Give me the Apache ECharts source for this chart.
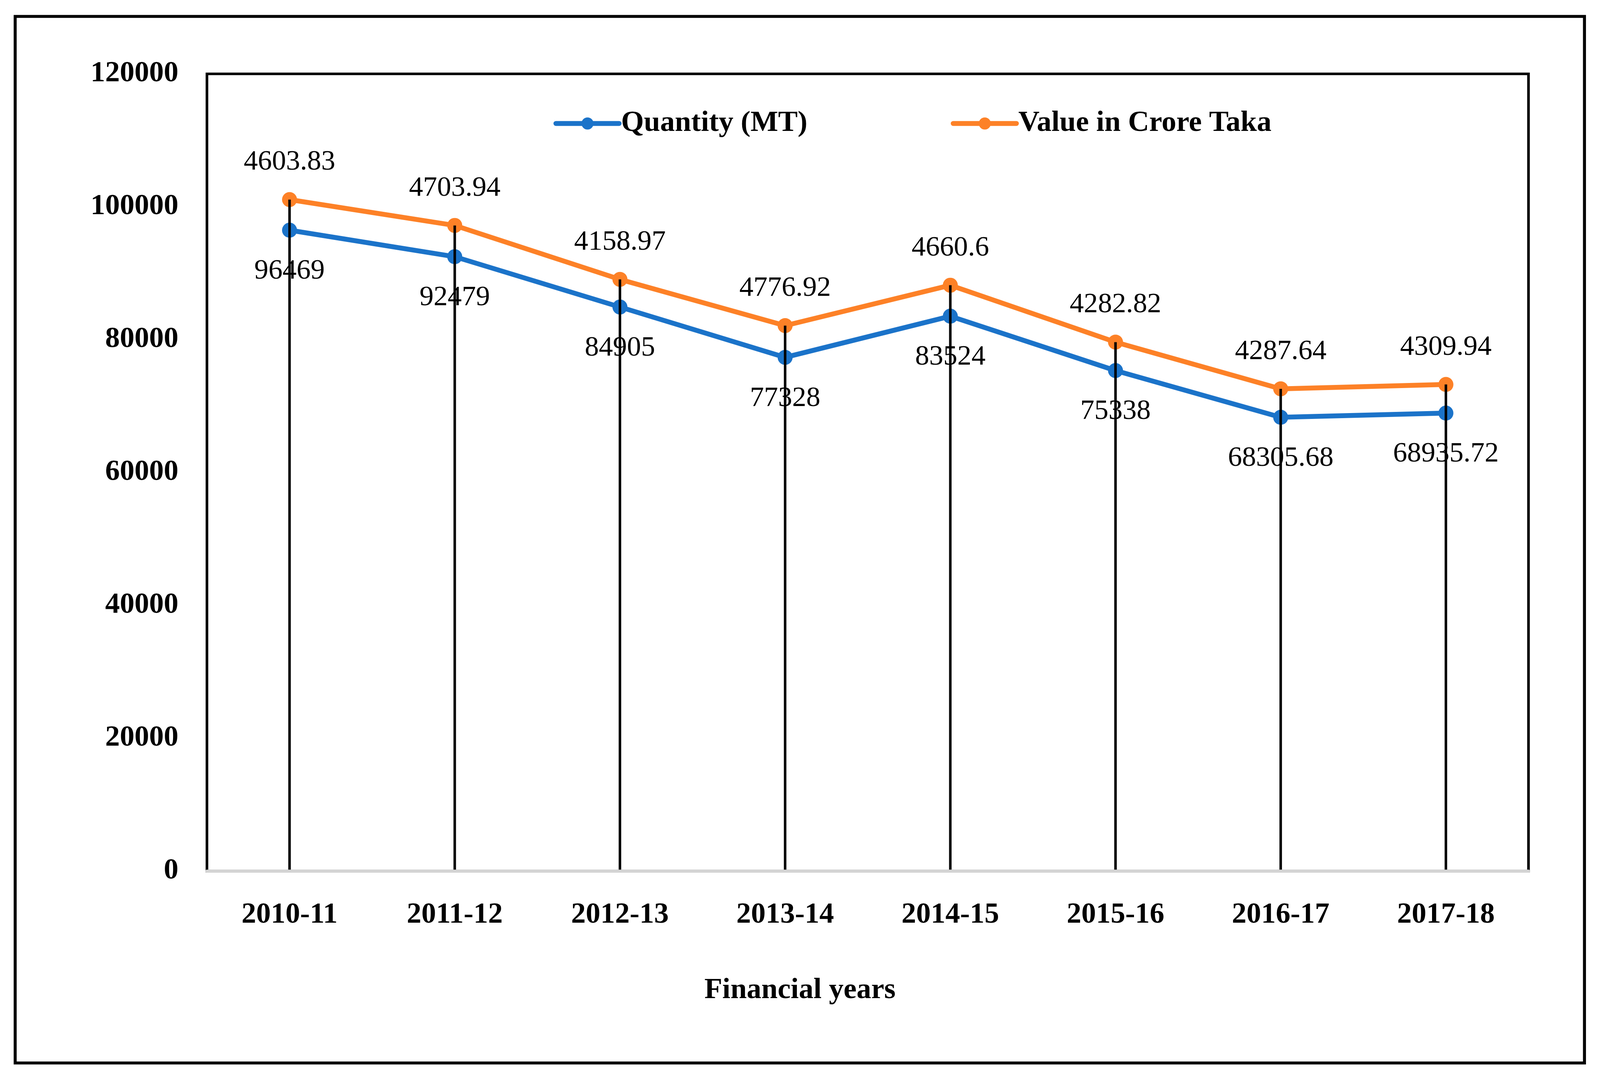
<!DOCTYPE html>
<html>
<head>
<meta charset="utf-8">
<script src="https://cdn.jsdelivr.net/npm/echarts@6/dist/echarts.min.js"></script>
<style>
html,body{margin:0;padding:0;background:#fff;overflow:hidden;}
#chart{width:100vw;height:100vh;}
</style>
</head>
<body>
<div id="chart"></div>
<script>
const categories = ['2010-11','2011-12','2012-13','2013-14','2014-15','2015-16','2016-17','2017-18'];
const quantity = [96469, 92479, 84905, 77328, 83524, 75338, 68305.68, 68935.72];
const valueCrore = [4603.83, 4703.94, 4158.97, 4776.92, 4660.6, 4282.82, 4287.64, 4309.94];
const yTicks = {min: 0, max: 120000, interval: 20000};

const stackedTop = quantity.map((q, i) => q + valueCrore[i]);
const FONT = '"Liberation Serif", "DejaVu Serif", serif';
const BLUE = '#1B73C9';
const ORANGE = '#FD8127';

const W = window.innerWidth, H = window.innerHeight;
const sx = W / 4430, sy = H / 2761, fs = Math.sqrt(sx * sy);
const X = v => v * sx, Y = v => v * sy;

const legendText = {fontFamily: FONT, fontSize: 78 * fs, fontWeight: 'bold', color: '#000', lineHeight: 80 * fs};

const chart = echarts.init(document.getElementById('chart'));
chart.setOption({
  backgroundColor: '#fff',
  animation: false,
  textStyle: {fontFamily: FONT},
  title: {
    text: 'Financial years',
    left: 'center',
    top: Y(2492),
    textStyle: {fontFamily: FONT, fontSize: 78 * fs, fontWeight: 'bold', color: '#000'}
  },
  graphic: [{
    type: 'rect',
    shape: {x: X(42), y: Y(42), width: X(4387) - X(42), height: Y(2720) - Y(42)},
    style: {fill: 'none', stroke: '#000', lineWidth: 8 * fs},
    silent: true
  }],
  legend: [{
    data: ['Quantity (MT)'],
    left: X(1527), top: Y(311) - 40 * fs,
    itemWidth: 175 * sx, itemHeight: 40 * fs, itemGap: 0,
    lineStyle: {width: 13 * fs, cap: 'round'},
    textStyle: legendText
  }, {
    data: ['Value in Crore Taka'],
    left: X(2627), top: Y(311) - 40 * fs,
    itemWidth: 175 * sx, itemHeight: 40 * fs, itemGap: 0,
    lineStyle: {width: 13 * fs, cap: 'round'},
    textStyle: legendText
  }],
  grid: {
    left: X(573), top: Y(189), right: W - X(4232), bottom: H - Y(2229),
    containLabel: false,
    show: true, borderColor: '#000', borderWidth: 7 * fs, backgroundColor: 'transparent'
  },
  xAxis: {
    type: 'category',
    data: categories,
    boundaryGap: true,
    axisLine: {show: true, lineStyle: {color: '#d4d4d4', width: 8 * fs}},
    axisTick: {show: false},
    axisLabel: {margin: 75 * sy, fontFamily: FONT, fontSize: 78 * fs, fontWeight: 'bold', color: '#000'},
    splitLine: {show: false},
    z: 5
  },
  yAxis: {
    type: 'value',
    min: yTicks.min, max: yTicks.max, interval: yTicks.interval,
    axisLine: {show: false},
    axisTick: {show: false},
    splitLine: {show: false},
    axisLabel: {margin: X(79), fontFamily: FONT, fontSize: 78 * fs, fontWeight: 'bold', color: '#000', formatter: v => String(v)}
  },
  series: [
    {
      name: 'Quantity (MT)',
      type: 'line',
      stack: 'total',
      data: quantity,
      symbol: 'circle',
      symbolSize: 40 * fs,
      lineStyle: {color: BLUE, width: 13 * fs},
      itemStyle: {color: BLUE},
      label: {show: true, position: 'bottom', distance: 50 * sy, fontFamily: FONT, fontSize: 75 * fs, color: '#000', formatter: p => String(p.value)},
      z: 2
    },
    {
      name: 'Value in Crore Taka',
      type: 'line',
      stack: 'total',
      data: valueCrore,
      symbol: 'circle',
      symbolSize: 40 * fs,
      lineStyle: {color: ORANGE, width: 13 * fs},
      itemStyle: {color: ORANGE},
      label: {show: true, position: 'top', distance: 40 * sy, fontFamily: FONT, fontSize: 75 * fs, color: '#000', formatter: p => String(p.value)},
      z: 2
    },
    {
      name: 'drop',
      type: 'bar',
      data: stackedTop,
      barWidth: 7 * sx,
      itemStyle: {color: '#000'},
      silent: true,
      z: 4
    }
  ]
});
</script>
</body>
</html>
